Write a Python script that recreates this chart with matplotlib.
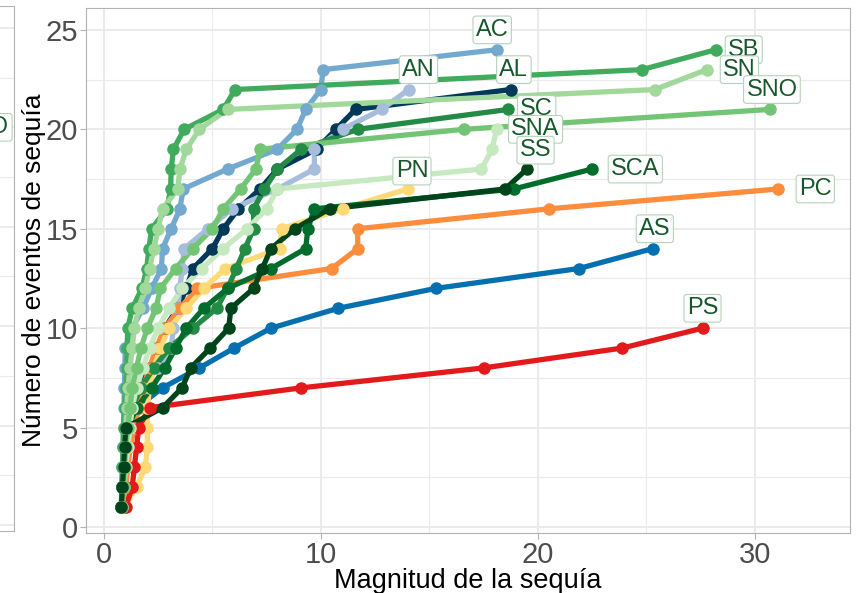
import matplotlib
matplotlib.use("Agg")
import matplotlib.pyplot as plt
from matplotlib.ticker import MultipleLocator

plt.rcParams['font.family'] = ['Liberation Sans', 'DejaVu Sans']

# drought magnitude (x) for each cumulative event count 1..N, per station
series_names = ['AC', 'AL', 'AN', 'AS', 'PC', 'PN', 'PS',
                'SB', 'SC', 'SCA', 'SN', 'SNA', 'SNO', 'SS']

mag_AC = [0.8, 0.82, 0.85, 0.88, 0.9, 0.92, 0.94, 0.96, 0.98, 1.3, 1.8, 2.2,
          2.65, 2.7, 3.1, 3.5, 3.65, 5.7, 8.0, 8.9, 9.3, 10.0, 10.1, 18.1]
mag_AL = [0.8, 0.85, 0.9, 0.95, 1.0, 1.2, 1.6, 2.1, 2.5, 2.8, 3.4, 3.8,
          4.1, 5.0, 5.5, 6.2, 7.2, 8.0, 9.8, 10.7, 11.6, 18.75]
mag_AN = [0.85, 0.9, 0.95, 1.0, 1.1, 1.3, 1.6, 2.5, 3.1, 3.2, 3.4, 3.5,
          3.6, 3.7, 4.8, 5.9, 8.0, 9.7, 9.7, 11.0, 12.8, 14.05]
mag_AS = [0.8, 0.85, 0.9, 0.95, 1.1, 1.5, 2.7, 4.4, 6.0, 7.7, 10.8, 15.3,
          21.9, 25.3]
mag_PC = [0.9, 1.0, 1.1, 1.2, 1.4, 1.6, 1.8, 2.1, 2.4, 2.8, 3.5, 4.3,
          10.5, 11.7, 11.7, 20.5, 31.1]
mag_PN = [0.95, 1.5, 1.9, 2.0, 2.0, 2.0, 2.1, 2.3, 2.6, 3.0, 3.8, 4.6,
          5.6, 8.1, 8.2, 11.0, 14.0]
mag_PS = [1.0, 1.3, 1.4, 1.5, 1.6, 2.1, 9.1, 17.5, 23.9, 27.6]
mag_SB = [0.8, 0.82, 0.85, 0.88, 0.9, 0.95, 1.0, 1.05, 1.06, 1.1, 1.3, 1.75,
          1.97, 2.07, 2.2, 2.9, 3.07, 3.1, 3.2, 3.7, 5.5, 6.04, 24.8, 28.2]
mag_SC = [0.85, 0.9, 0.95, 1.0, 1.1, 1.3, 1.7, 2.3, 3.0, 4.1, 5.2, 5.7,
          6.1, 6.5, 6.9, 6.9, 7.4, 8.0, 9.1, 11.7, 18.65]
mag_SCA = [0.8, 0.85, 0.9, 1.0, 1.1, 1.5, 2.2, 2.8, 3.3, 3.8, 4.6, 5.7,
           7.7, 9.3, 9.4, 9.7, 18.9, 22.5]
mag_SN = [0.8, 0.85, 0.9, 0.95, 1.0, 1.05, 1.1, 1.2, 1.3, 1.4, 1.6, 1.9,
          2.1, 2.3, 2.5, 2.7, 3.4, 3.5, 3.8, 4.4, 5.7, 25.4, 27.8]
mag_SNA = [0.85, 0.9, 1.0, 1.1, 1.2, 1.3, 1.5, 1.8, 2.1, 2.5, 3.0, 3.6,
           4.5, 5.5, 6.6, 7.5, 8.0, 17.4, 17.9, 18.1]
mag_SNO = [0.85, 0.9, 0.95, 1.0, 1.1, 1.2, 1.3, 1.5, 1.7, 2.0, 2.4, 2.6,
           3.3, 4.1, 5.0, 5.5, 6.3, 7.0, 7.2, 16.6, 30.7]
mag_SS = [0.8, 0.85, 0.9, 0.95, 1.0, 2.7, 3.6, 4.0, 4.9, 5.75, 5.85, 6.9,
          7.3, 7.7, 8.8, 10.4, 18.5, 19.5]

magnitudes = {'AC': mag_AC, 'AL': mag_AL, 'AN': mag_AN, 'AS': mag_AS,
              'PC': mag_PC, 'PN': mag_PN, 'PS': mag_PS, 'SB': mag_SB,
              'SC': mag_SC, 'SCA': mag_SCA, 'SN': mag_SN, 'SNA': mag_SNA,
              'SNO': mag_SNO, 'SS': mag_SS}

colors = {'AC': '#74A9CF', 'AL': '#023858', 'AN': '#A6BDDB', 'AS': '#0570B0',
          'PC': '#FD8D3C', 'PN': '#FED976', 'PS': '#E31A1C',
          'SB': '#41AB5D', 'SC': '#238B45', 'SCA': '#006D2C', 'SN': '#A1D99B',
          'SNA': '#C7E9C0', 'SNO': '#74C476', 'SS': '#00441B'}

# label offset from the last point (data units), like ggrepel placement
label_offsets = {'AC': (-0.2, 1.0), 'AL': (0.15, 1.0), 'AN': (0.45, 1.0),
                 'AS': (0.1, 1.0), 'PC': (1.7, 0.0), 'PN': (0.2, 0.9),
                 'PS': (0.0, 1.0), 'SB': (1.3, 0.0), 'SN': (1.5, 0.0),
                 'SNO': (0.1, 1.0), 'SC': (1.3, 0.0), 'SNA': (1.8, 0.0),
                 'SS': (0.4, 0.95), 'SCA': (2.0, 0.0)}

fig = plt.figure(figsize=(8.56, 5.93), dpi=100)
W, H = 856, 593

grid_col = '#EBEBEB'
border_col = '#B3B3B3'
label_col = '#17572B'
label_box = dict(boxstyle='round,pad=0.12', fc='white', ec='#B5D3BC', lw=0.8)

# sliver of the neighbouring panel on the left edge
ax0 = fig.add_axes([-300 / W, 1 - 531 / H, 314 / W, 525 / H])
ax0.set_xlim(0, 1)
ax0.set_ylim(-0.3, 26.1)
ax0.yaxis.set_major_locator(MultipleLocator(5))
ax0.yaxis.set_minor_locator(MultipleLocator(2.5))
ax0.grid(True, which='major', axis='y', color=grid_col, lw=1.4)
ax0.grid(True, which='minor', axis='y', color=grid_col, lw=0.8)
ax0.tick_params(which='both', left=False, bottom=False,
                labelleft=False, labelbottom=False)
for s in ax0.spines.values():
    s.set_color(border_col)
ax0.text(0.985, 20.0, 'SNO', ha='right', va='center', fontsize=17,
         color=label_col, clip_on=True, bbox=label_box)

ax = fig.add_axes([86 / W, 1 - 533 / H, 764 / W, 525 / H])

for name in series_names:
    x = magnitudes[name]
    y = list(range(1, len(x) + 1))
    ax.plot(x, y, color=colors[name], lw=3.8, solid_capstyle='round', zorder=2)
for name in series_names:
    x = magnitudes[name]
    y = list(range(1, len(x) + 1))
    ax.plot(x, y, 'o', color=colors[name], ms=8, zorder=3)

for name in series_names:
    x = magnitudes[name]
    dx, dy = label_offsets[name]
    ax.text(x[-1] + dx, len(x) + dy, name, ha='center', va='center',
            fontsize=17, color=label_col, zorder=5, bbox=label_box)

ax.set_xlim(-0.83, 34.4)
ax.set_ylim(-0.3, 26.1)
ax.xaxis.set_major_locator(MultipleLocator(10))
ax.xaxis.set_minor_locator(MultipleLocator(5))
ax.yaxis.set_major_locator(MultipleLocator(5))
ax.yaxis.set_minor_locator(MultipleLocator(2.5))
ax.grid(True, which='major', color=grid_col, lw=1.4, zorder=0)
ax.grid(True, which='minor', color=grid_col, lw=0.8, zorder=0)
ax.set_axisbelow(True)
for s in ax.spines.values():
    s.set_color(border_col)
ax.tick_params(which='major', length=4, width=0.8, color=border_col,
               labelsize=21, labelcolor='#4D4D4D', pad=2)
ax.tick_params(which='minor', length=0)

ax.set_xlabel('Magnitud de la sequía', fontsize=19.5, color='black')
ax.set_ylabel('Número de eventos de sequía', fontsize=19, color='black')
ax.xaxis.set_label_coords(0.5, -0.066)
ax.yaxis.set_label_coords(-0.052, 0.5)

fig.savefig('out.png', dpi=100)
